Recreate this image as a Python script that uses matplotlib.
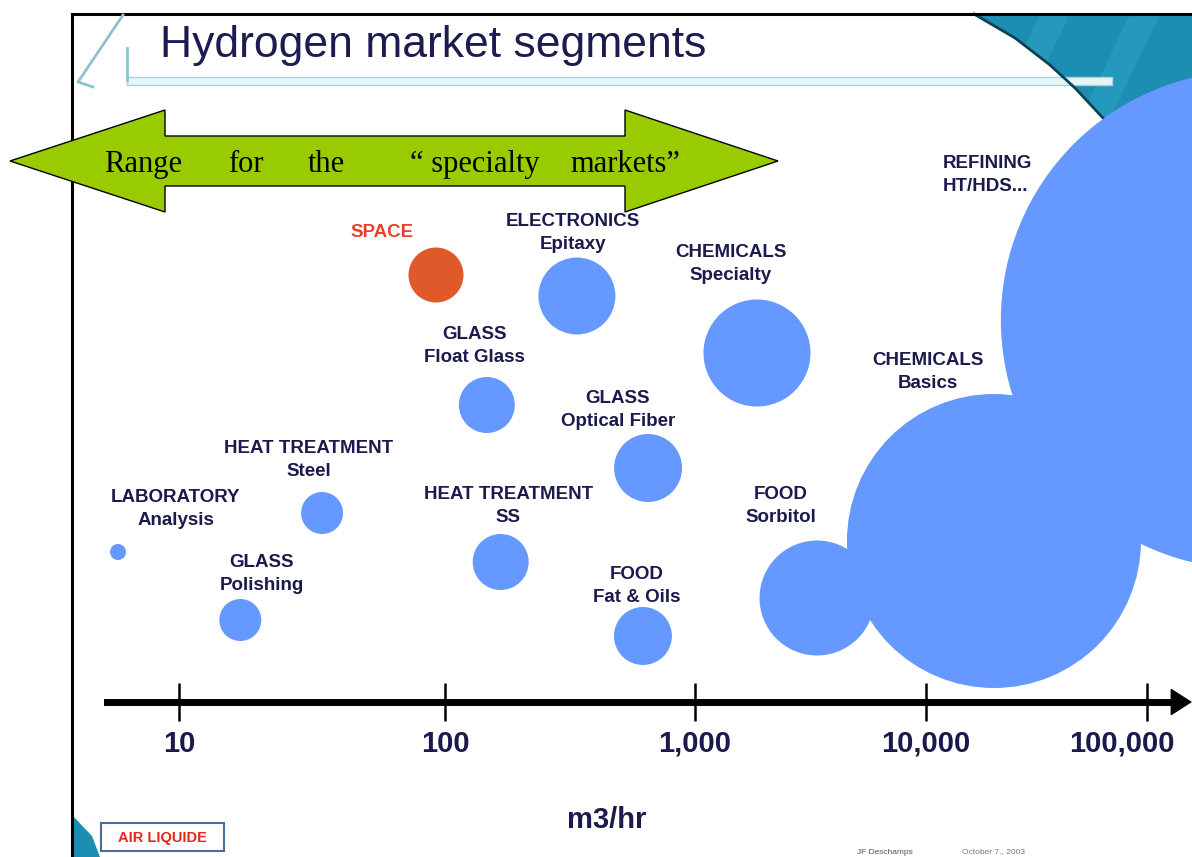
import numpy as np
import matplotlib
matplotlib.use('Agg')
import matplotlib.pyplot as plt
import matplotlib.transforms as mtransforms
from matplotlib.patches import Polygon, Rectangle

# market segments: flow rate (m3/hr), vertical row (from top), bubble diameter
segments = ['LABORATORY\nAnalysis', 'GLASS\nPolishing', 'HEAT TREATMENT\nSteel', 'SPACE',
            'GLASS\nFloat Glass', 'HEAT TREATMENT\nSS', 'ELECTRONICS\nEpitaxy',
            'GLASS\nOptical Fiber', 'FOOD\nFat & Oils', 'CHEMICALS\nSpecialty',
            'FOOD\nSorbitol', 'CHEMICALS\nBasics', 'REFINING\nHT/HDS...']
flow = [5.9, 17, 34.5, 92.5, 147, 167, 337, 649, 619, 1855, 3375, 20300, 292000]
row = [552, 620, 513, 275, 405, 562, 296, 468, 636, 353, 598, 541, 320]
bubble = [16, 42, 42, 55, 56, 56, 77, 68, 58, 107, 115, 294, 498]

# label anchors (same units)
label_x = [9.7, 20.5, 30.8, 58, 131, 179, 325, 492, 586, 1432, 2355, 10200, 11940]
label_y = [509, 574, 460, 232, 346, 506, 233, 410, 586, 264, 506, 372, 175]

tick_vals = [10, 100, 1000, 10000, 100000]
tick_labels = ['10', '100', '1,000', '10,000', '100,000']

# the slide's axis is hand drawn: decades are not evenly spaced
LOG_T = np.array([1.0, 2.0, 3.0, 4.0, 5.0])
PIX_T = np.array([179.0, 445.0, 695.0, 926.0, 1147.0])


def fwd(x):
    l = np.log10(np.maximum(np.asarray(x, dtype=float), 1e-6))
    p = np.interp(l, LOG_T, PIX_T)
    p = np.where(l < 1, 179 + (l - 1) * 266, p)
    p = np.where(l > 5, 1147 + (l - 5) * 221, p)
    return p


def inv(p):
    p = np.asarray(p, dtype=float)
    l = np.interp(p, PIX_T, LOG_T)
    l = np.where(p < 179, 1 + (p - 179) / 266, l)
    l = np.where(p > 1147, 5 + (p - 1147) / 221, l)
    return 10 ** l


navy = '#1a1a4c'
blue = '#6699ff'

fig = plt.figure(figsize=(11.92, 8.57), dpi=100)
fig.patch.set_facecolor('white')

# background slide decorations, in pixel units
bg = fig.add_axes([0, 0, 1, 1], zorder=0)
bg.set_xlim(0, 1192)
bg.set_ylim(857, 0)
bg.axis('off')

teal = Polygon([(972, 14), (1192, 14), (1192, 140), (1105, 140), (1103, 118),
                (1075, 88), (1050, 65), (1015, 38)], closed=True,
               facecolor='#1e8db2', edgecolor='none')
bg.add_patch(teal)
for sx in [1040, 1130]:
    streak = Polygon([(sx, 14), (sx + 30, 14), (sx - 30, 140), (sx - 60, 140)], closed=True,
                     facecolor='#2aa2c4', edgecolor='none', alpha=0.6)
    bg.add_patch(streak)
    streak.set_clip_path(teal)
bg.plot([974, 1015, 1050, 1075, 1103], [14, 38, 65, 88, 118], color='#0d4356', lw=2)

bg.plot([72, 1192], [14, 14], color='black', lw=2.2)
bg.plot([72, 72], [14, 857], color='black', lw=2.2)

# title decoration
bg.plot([123, 78, 93], [15, 82, 87], color='#8cc3cd', lw=2)
bg.plot([127, 127], [48, 80], color='#8cc3cd', lw=2)
bg.add_patch(Rectangle((127, 77), 985, 8, facecolor='#e8f5f7', edgecolor='#a8d3da', lw=1))
bg.text(160, 57, 'Hydrogen market segments', fontsize=32, color='#1c1c50',
        family='Liberation Sans', va='baseline', ha='left')

# specialty range arrow
arrow = Polygon([(10, 161), (165, 110), (165, 136), (625, 136), (625, 110), (778, 161),
                 (625, 212), (625, 186), (165, 186), (165, 212)], closed=True,
                facecolor='#99cc00', edgecolor='black', lw=1, zorder=3)
bg.add_patch(arrow)
for wx, w in zip([104, 228, 308, 410, 570], ['Range', 'for', 'the', '\u201c specialty', 'markets\u201d']):
    bg.text(wx, 172, w, fontsize=22, family='Liberation Serif', color='black',
            ha='left', va='baseline', zorder=4)

bg.text(607, 828, 'm3/hr', fontsize=21, fontweight='bold', color=navy,
        family='Liberation Sans', ha='center', va='baseline')

# logo and footer
bg.add_patch(Polygon([(72, 815), (92, 836), (100, 857), (72, 857)], closed=True,
                     facecolor='#1e8db2', edgecolor='none'))
bg.add_patch(Rectangle((101, 823), 123, 28, facecolor='white', edgecolor='#4a6e9c', lw=1.5))
bg.text(162, 838, 'AIR LIQUIDE', fontsize=10.5, fontweight='heavy', color='#e8261c',
        family='Liberation Sans', ha='center', va='center')
bg.text(857, 852, 'JF Deschamps', fontsize=6, color='#555555', family='Liberation Sans', va='center')
bg.text(962, 852, 'October 7., 2003', fontsize=6, color='#777777', family='Liberation Sans', va='center')

# main chart
ax = fig.add_axes([0, 0, 1, 1], zorder=1)
ax.patch.set_alpha(0)
ax.set_xscale('function', functions=(fwd, inv))
ax.set_xlim(inv(0), inv(1192))
ax.set_ylim(857, 0)

colors = [blue] * len(segments)
colors[segments.index('SPACE')] = '#e0592a'
ax.scatter(flow, row, s=(np.array(bubble) * 0.72) ** 2, c=colors, linewidths=0, zorder=2)

for i, seg in enumerate(segments):
    ha = 'left' if seg.startswith('REFINING') else 'center'
    col = '#e8402a' if seg == 'SPACE' else navy
    ax.text(label_x[i], label_y[i], seg, ha=ha, va='center', multialignment=ha,
            fontsize=13.5, fontweight='bold', color=col, family='Liberation Sans',
            linespacing=1.45, zorder=3)

# x axis as an arrow
for side in ['top', 'left', 'right']:
    ax.spines[side].set_visible(False)
ax.spines['bottom'].set_position(('data', 702))
ax.spines['bottom'].set_linewidth(5)
ax.spines['bottom'].set_bounds(inv(107), inv(1175))
ax.set_yticks([])
ax.set_xticks(tick_vals)
ax.set_xticklabels(tick_labels)
ax.xaxis.set_minor_locator(matplotlib.ticker.NullLocator())
ax.tick_params(axis='x', direction='inout', length=28, width=1.8, pad=6,
               labelsize=21, labelcolor=navy)
for t in ax.get_xticklabels():
    t.set_fontweight('bold')
    t.set_family('Liberation Sans')
# last label sits left of its tick on the slide
last = ax.get_xticklabels()[-1]
last.set_transform(last.get_transform() + mtransforms.ScaledTranslation(-0.25, 0, fig.dpi_scale_trans))
ax.annotate('', xy=(inv(1192), 702), xytext=(inv(1168), 702),
            arrowprops=dict(arrowstyle='-|>,head_length=1.4,head_width=0.9',
                            color='black', lw=1, shrinkA=0, shrinkB=0))

fig.savefig('out.png', dpi=100)
